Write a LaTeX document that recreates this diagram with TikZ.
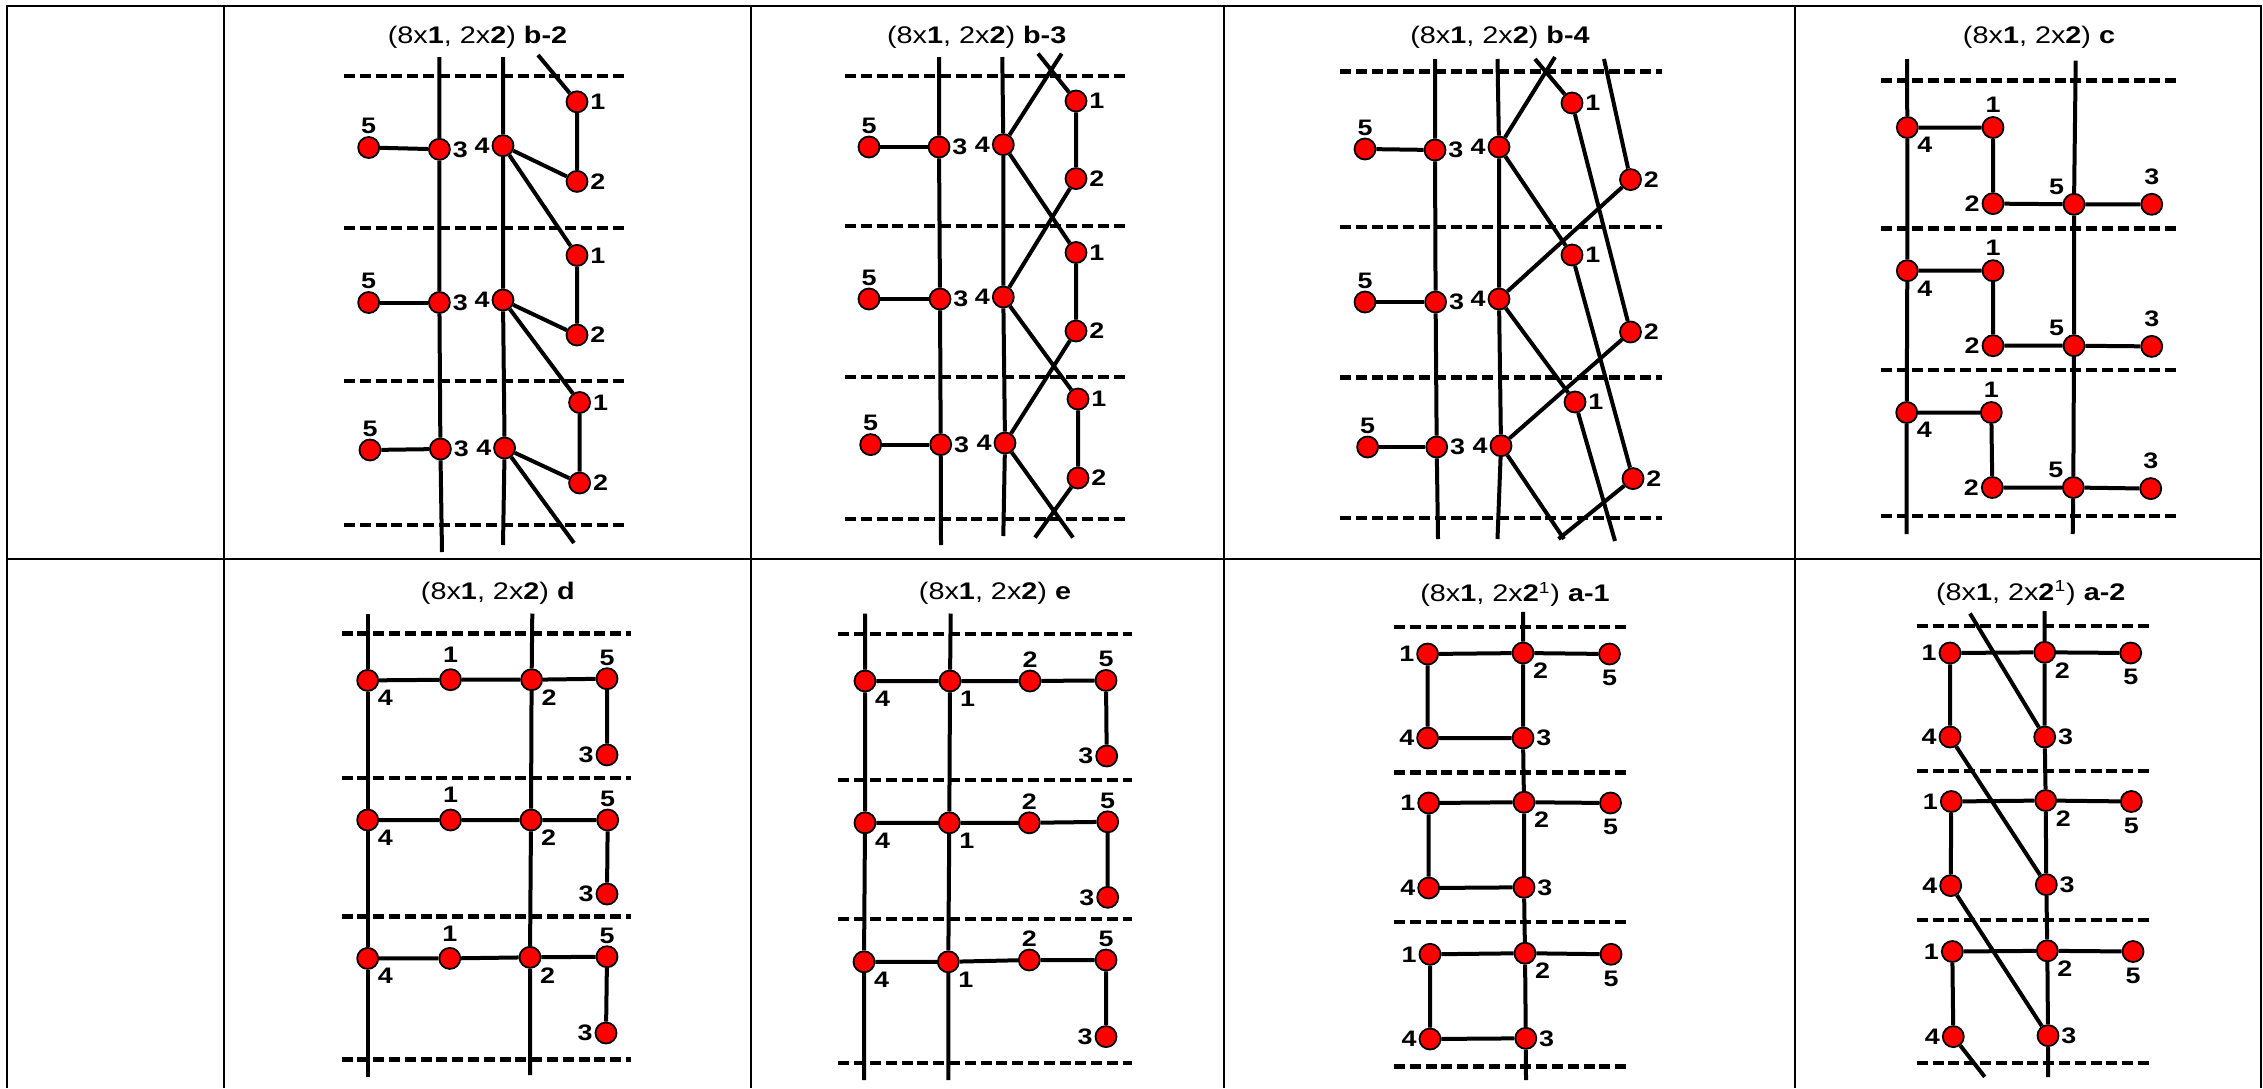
\documentclass[tikz,border=0pt]{standalone}
\usepackage{fontspec}
\setmainfont{Liberation Sans}[FakeStretch=1.2]
\tikzset{
  dot/.style={circle,draw=black,fill=red,line width=0.9pt,minimum size=10.5pt,inner sep=0pt},
  bond/.style={line width=2pt},
  period/.style={line width=2.2pt,dash pattern=on 5.5pt off 2.4pt},
  cell/.style={line width=1pt},
  title/.style={font=\fontsize{12}{14}\selectfont}
}
\begin{document}
\begin{tikzpicture}[x=0.5pt,y=-0.5pt,every label/.style={font=\fontsize{11.2}{13}\selectfont\bfseries,inner sep=0.8pt}]
\useasboundingbox (0,0) rectangle (2263,1088);
\draw[cell] (6.7,1088) -- (6.7,5.5) -- (2261,5.5) -- (2261,1088);
\draw[cell] (6.7,558.5) -- (2261,558.5);
\draw[cell] (223.5,5.5) -- (223.5,1088);
\draw[cell] (750.5,5.5) -- (750.5,1088);
\draw[cell] (1224,5.5) -- (1224,1088);
\draw[cell] (1795,5.5) -- (1795,1088);

\node[title] (tb2) at (477.5,37.5) {(8x\textbf{1}, 2x\textbf{2}) \textbf{b-2}};
\draw[period] (344,76) -- (628,76);
\draw[period] (344,228) -- (628,228);
\draw[period] (344,381) -- (628,381);
\draw[period] (344,525) -- (628,525);
\node[dot,label=above:5] (b2-5a) at (368.7,147.5) {};
\node[dot,label=right:3] (b2-3a) at (439.4,149.3) {};
\node[dot,label=left:4] (b2-4a) at (503,145.7) {};
\node[dot,label=right:1] (b2-1a) at (577,101.8) {};
\node[dot,label=right:2] (b2-2a) at (577,181.4) {};
\node[dot,label=above:5] (b2-5b) at (368.7,302.5) {};
\node[dot,label=right:3] (b2-3b) at (439.4,302.5) {};
\node[dot,label=left:4] (b2-4b) at (503,300) {};
\node[dot,label=right:1] (b2-1b) at (577,255.4) {};
\node[dot,label=right:2] (b2-2b) at (577,335) {};
\node[dot,label=above:5] (b2-5c) at (370,450) {};
\node[dot,label=right:3] (b2-3c) at (440.4,449) {};
\node[dot,label=left:4] (b2-4c) at (504.6,448) {};
\node[dot,label=right:1] (b2-1c) at (579.6,402.5) {};
\node[dot,label=right:2] (b2-2c) at (579.6,483) {};
\coordinate (b2-At) at (439.4,57);
\coordinate (b2-Ab) at (442,552);
\coordinate (b2-Bt) at (503,57);
\coordinate (b2-Bb) at (503,545);
\coordinate (b2-s) at (538,55);
\coordinate (b2-e) at (574,543);
\draw[bond] (b2-At) -- (b2-3a) -- (b2-3b) -- (b2-3c) -- (b2-Ab);
\draw[bond] (b2-Bt) -- (b2-4a) -- (b2-4b) -- (b2-4c) -- (b2-Bb);
\draw[bond] (b2-s) -- (b2-1a) -- (b2-2a) -- (b2-4a) -- (b2-1b) -- (b2-2b) -- (b2-4b) -- (b2-1c) -- (b2-2c) -- (b2-4c) -- (b2-e);
\draw[bond] (b2-5a) -- (b2-3a);
\draw[bond] (b2-5b) -- (b2-3b);
\draw[bond] (b2-5c) -- (b2-3c);

\node[title] (tb3) at (976.7,37.5) {(8x\textbf{1}, 2x\textbf{2}) \textbf{b-3}};
\draw[period] (845,75.7) -- (1126,75.7);
\draw[period] (845,226) -- (1126,226);
\draw[period] (845,376.8) -- (1126,376.8);
\draw[period] (845,519) -- (1126,519);
\node[dot,label=above:5] (b3-5a) at (869,147) {};
\node[dot,label=right:3] (b3-3a) at (939,147) {};
\node[dot,label=left:4] (b3-4a) at (1003.3,144.6) {};
\node[dot,label=right:1] (b3-1a) at (1076,101) {};
\node[dot,label=right:2] (b3-2a) at (1076,178.6) {};
\node[dot,label=above:5] (b3-5b) at (869,299) {};
\node[dot,label=right:3] (b3-3b) at (940,299) {};
\node[dot,label=left:4] (b3-4b) at (1003.3,297) {};
\node[dot,label=right:1] (b3-1b) at (1076,252.5) {};
\node[dot,label=right:2] (b3-2b) at (1076,331) {};
\node[dot,label=above:5] (b3-5c) at (870.7,444.6) {};
\node[dot,label=right:3] (b3-3c) at (940.7,444.6) {};
\node[dot,label=left:4] (b3-4c) at (1005,443) {};
\node[dot,label=right:1] (b3-1c) at (1078,399) {};
\node[dot,label=right:2] (b3-2c) at (1078,478) {};
\coordinate (b3-At) at (939,57);
\coordinate (b3-Ab) at (941,545);
\coordinate (b3-Bt) at (1002.3,57);
\coordinate (b3-Bb) at (1003.3,536);
\coordinate (b3-s) at (1038,53.6);
\coordinate (b3-t) at (1061.7,53.6);
\coordinate (b3-e1) at (1073,537.5);
\coordinate (b3-e2) at (1035,537.5);
\draw[bond] (b3-At) -- (b3-3a) -- (b3-3b) -- (b3-3c) -- (b3-Ab);
\draw[bond] (b3-Bt) -- (b3-4a) -- (b3-4b) -- (b3-4c) -- (b3-Bb);
\draw[bond] (b3-s) -- (b3-1a) -- (b3-2a) -- (b3-4b) -- (b3-1c) -- (b3-2c) -- (b3-e2);
\draw[bond] (b3-t) -- (b3-4a) -- (b3-1b) -- (b3-2b) -- (b3-4c) -- (b3-e1);
\draw[bond] (b3-5a) -- (b3-3a);
\draw[bond] (b3-5b) -- (b3-3b);
\draw[bond] (b3-5c) -- (b3-3c);

\node[title] (tb4) at (1500,37.5) {(8x\textbf{1}, 2x\textbf{2}) \textbf{b-4}};
\draw[period] (1340,71.4) -- (1662,71.4);
\draw[period] (1340,226.8) -- (1662,226.8);
\draw[period] (1340,377.5) -- (1662,377.5);
\draw[period] (1340,518) -- (1662,518);
\node[dot,label=above:5] (b4-5a) at (1365,149) {};
\node[dot,label=right:3] (b4-3a) at (1435,150) {};
\node[dot,label=left:4] (b4-4a) at (1499,147) {};
\node[dot,label=right:1] (b4-1a) at (1572,103) {};
\node[dot,label=right:2] (b4-2a) at (1630.5,179.6) {};
\node[dot,label=above:5] (b4-5b) at (1365,302) {};
\node[dot,label=right:3] (b4-3b) at (1435.6,302) {};
\node[dot,label=left:4] (b4-4b) at (1499,299) {};
\node[dot,label=right:1] (b4-1b) at (1572,255) {};
\node[dot,label=right:2] (b4-2b) at (1630.5,332) {};
\node[dot,label=above:5] (b4-5c) at (1367.6,447) {};
\node[dot,label=right:3] (b4-3c) at (1436.7,447) {};
\node[dot,label=left:4] (b4-4c) at (1501,445.7) {};
\node[dot,label=right:1] (b4-1c) at (1575,402) {};
\node[dot,label=right:2] (b4-2c) at (1633,478.6) {};
\coordinate (b4-At) at (1435,59);
\coordinate (b4-Ab) at (1438,539);
\coordinate (b4-Bt) at (1497.5,59);
\coordinate (b4-Bb) at (1497.5,539);
\coordinate (b4-t1) at (1555,57);
\coordinate (b4-t2) at (1535,59);
\coordinate (b4-t3) at (1604,59);
\coordinate (b4-e1) at (1558.5,539);
\coordinate (b4-e2) at (1564,539);
\coordinate (b4-e3) at (1615,541);
\draw[bond] (b4-At) -- (b4-3a) -- (b4-3b) -- (b4-3c) -- (b4-Ab);
\draw[bond] (b4-Bt) -- (b4-4a) -- (b4-4b) -- (b4-4c) -- (b4-Bb);
\draw[bond] (b4-t1) -- (b4-4a) -- (b4-1b) -- (b4-2c) -- (b4-e1);
\draw[bond] (b4-t2) -- (b4-1a) -- (b4-2b) -- (b4-4c) -- (b4-e2);
\draw[bond] (b4-t3) -- (b4-2a) -- (b4-4b) -- (b4-1c) -- (b4-e3);
\draw[bond] (b4-5a) -- (b4-3a);
\draw[bond] (b4-5b) -- (b4-3b);
\draw[bond] (b4-5c) -- (b4-3c);

\node[title] (tc) at (2039,37.5) {(8x\textbf{1}, 2x\textbf{2}) \textbf{c}};
\draw[period] (1880.7,80.4) -- (2176.7,80.4);
\draw[period] (1880.7,228.6) -- (2176.7,228.6);
\draw[period] (1880.7,370) -- (2176.7,370);
\draw[period] (1880.7,516) -- (2176.7,516);
\node[dot,label=below right:4] (c-4a) at (1907.3,127.5) {};
\node[dot,label={[label distance=1pt]above:1}] (c-1a) at (1993,127.5) {};
\node[dot,label=left:2] (c-2a) at (1993,203.6) {};
\node[dot,label=above left:5] (c-5a) at (2074,204.3) {};
\node[dot,label={[label distance=3pt]above:3}] (c-3a) at (2151.7,204.3) {};
\node[dot,label=below right:4] (c-4b) at (1907.3,270.7) {};
\node[dot,label={[label distance=1pt]above:1}] (c-1b) at (1993,270.7) {};
\node[dot,label=left:2] (c-2b) at (1993,345.7) {};
\node[dot,label=above left:5] (c-5b) at (2074,345.7) {};
\node[dot,label={[label distance=3pt]above:3}] (c-3b) at (2151.7,346.4) {};
\node[dot,label=below right:4] (c-4c) at (1906.7,412.5) {};
\node[dot,label={[label distance=1pt]above:1}] (c-1c) at (1991.3,412.5) {};
\node[dot,label=left:2] (c-2c) at (1992.3,487.5) {};
\node[dot,label=above left:5] (c-5c) at (2073.3,487.5) {};
\node[dot,label={[label distance=3pt]above:3}] (c-3c) at (2150.7,488.6) {};
\coordinate (c-At) at (1907,59);
\coordinate (c-Ab) at (1906.7,534);
\coordinate (c-Bt) at (2075.7,60.7);
\coordinate (c-Bb) at (2072.7,534);
\draw[bond] (c-At) -- (c-4a) -- (c-4b) -- (c-4c) -- (c-Ab);
\draw[bond] (c-Bt) -- (c-5a) -- (c-5b) -- (c-5c) -- (c-Bb);
\draw[bond] (c-4a) -- (c-1a) -- (c-2a) -- (c-5a) -- (c-3a);
\draw[bond] (c-4b) -- (c-1b) -- (c-2b) -- (c-5b) -- (c-3b);
\draw[bond] (c-4c) -- (c-1c) -- (c-2c) -- (c-5c) -- (c-3c);

\node[title] (td) at (497.8,592.9) {(8x\textbf{1}, 2x\textbf{2}) \textbf{d}};
\draw[period] (341.6,633.4) -- (631.4,633.4);
\draw[period] (341.6,778.2) -- (631.4,778.2);
\draw[period] (341.6,916.5) -- (631.4,916.5);
\draw[period] (341.6,1059.6) -- (631.4,1059.6);
\node[dot,label=below right:4] (d-4a) at (367.7,680.4) {};
\node[dot,label={[label distance=2pt]above:1}] (d-1a) at (450.5,679.7) {};
\node[dot,label=below right:2] (d-2a) at (531.6,679.7) {};
\node[dot,label=above:5] (d-5a) at (607,678.7) {};
\node[dot,label=left:3] (d-3a) at (607,754.9) {};
\node[dot,label=below right:4] (d-4b) at (367.7,820) {};
\node[dot,label={[label distance=2pt]above:1}] (d-1b) at (450.5,820) {};
\node[dot,label=below right:2] (d-2b) at (531,820) {};
\node[dot,label=above:5] (d-5b) at (607.7,820) {};
\node[dot,label=left:3] (d-3b) at (607,894) {};
\node[dot,label=below right:4] (d-4c) at (367.7,958.4) {};
\node[dot,label={[label distance=2pt]above:1}] (d-1c) at (449.8,958.4) {};
\node[dot,label=below right:2] (d-2c) at (530,957.3) {};
\node[dot,label=above:5] (d-5c) at (607,956.7) {};
\node[dot,label=left:3] (d-3c) at (606,1033) {};
\coordinate (d-At) at (367.7,613.5);
\coordinate (d-Ab) at (367.7,1076.8);
\coordinate (d-Bt) at (532.3,613.5);
\coordinate (d-Bb) at (530,1075);
\draw[bond] (d-At) -- (d-4a) -- (d-4b) -- (d-4c) -- (d-Ab);
\draw[bond] (d-Bt) -- (d-2a) -- (d-2b) -- (d-2c) -- (d-Bb);
\draw[bond] (d-4a) -- (d-1a) -- (d-2a) -- (d-5a) -- (d-3a);
\draw[bond] (d-4b) -- (d-1b) -- (d-2b) -- (d-5b) -- (d-3b);
\draw[bond] (d-4c) -- (d-1c) -- (d-2c) -- (d-5c) -- (d-3c);

\node[title] (te) at (995,592.9) {(8x\textbf{1}, 2x\textbf{2}) \textbf{e}};
\draw[period] (838.3,634) -- (1131.7,634);
\draw[period] (838.3,780) -- (1131.7,780);
\draw[period] (838.3,919) -- (1131.7,919);
\draw[period] (838.3,1063) -- (1131.7,1063);
\node[dot,label=below right:4] (e-4a) at (865,681) {};
\node[dot,label=below right:1] (e-1a) at (950,681) {};
\node[dot,label=above:2] (e-2a) at (1030,681) {};
\node[dot,label=above:5] (e-5a) at (1106,680.4) {};
\node[dot,label=left:3] (e-3a) at (1106.7,756) {};
\node[dot,label=below right:4] (e-4b) at (865,822.8) {};
\node[dot,label=below right:1] (e-1b) at (949.3,822.8) {};
\node[dot,label=above:2] (e-2b) at (1029.3,822.8) {};
\node[dot,label=above:5] (e-5b) at (1107.7,821.8) {};
\node[dot,label=left:3] (e-3b) at (1107.7,897.3) {};
\node[dot,label=below right:4] (e-4c) at (864,961.8) {};
\node[dot,label=below right:1] (e-1c) at (948.3,961.8) {};
\node[dot,label=above:2] (e-2c) at (1029.3,960) {};
\node[dot,label=above:5] (e-5c) at (1106,960) {};
\node[dot,label=left:3] (e-3c) at (1106,1036.6) {};
\coordinate (e-At) at (865,613.5);
\coordinate (e-Ab) at (864,1080);
\coordinate (e-Bt) at (950.7,613.5);
\coordinate (e-Bb) at (948.3,1080);
\draw[bond] (e-At) -- (e-4a) -- (e-4b) -- (e-4c) -- (e-Ab);
\draw[bond] (e-Bt) -- (e-1a) -- (e-1b) -- (e-1c) -- (e-Bb);
\draw[bond] (e-4a) -- (e-1a) -- (e-2a) -- (e-5a) -- (e-3a);
\draw[bond] (e-4b) -- (e-1b) -- (e-2b) -- (e-5b) -- (e-3b);
\draw[bond] (e-4c) -- (e-1c) -- (e-2c) -- (e-5c) -- (e-3c);

\node[title] (ta1) at (1515,594.6) {(8x\textbf{1}, 2x\textbf{2}\textsuperscript{1}) \textbf{a-1}};
\draw[period] (1394,627) -- (1627.6,627);
\draw[period] (1394,772.4) -- (1627.6,772.4);
\draw[period] (1394,921.7) -- (1627.6,921.7);
\draw[period] (1394,1066.5) -- (1627.6,1066.5);
\node[dot,label=left:1] (a1-1a) at (1427.6,654) {};
\node[dot,label=below right:2] (a1-2a) at (1523,653) {};
\node[dot,label={[label distance=1.5pt]below:5}] (a1-5a) at (1609.5,654) {};
\node[dot,label=left:4] (a1-4a) at (1427.6,738) {};
\node[dot,label=right:3] (a1-3a) at (1523,738) {};
\node[dot,label=left:1] (a1-1b) at (1428.7,803) {};
\node[dot,label=below right:2] (a1-2b) at (1524,802.2) {};
\node[dot,label={[label distance=1.5pt]below:5}] (a1-5b) at (1610.5,803) {};
\node[dot,label=left:4] (a1-4b) at (1428.7,888) {};
\node[dot,label=right:3] (a1-3b) at (1524,887.3) {};
\node[dot,label=left:1] (a1-1c) at (1430,954.3) {};
\node[dot,label=below right:2] (a1-2c) at (1525,953.2) {};
\node[dot,label={[label distance=1.5pt]below:5}] (a1-5c) at (1611,954.3) {};
\node[dot,label=left:4] (a1-4c) at (1430,1039) {};
\node[dot,label=right:3] (a1-3c) at (1525.8,1038.3) {};
\coordinate (a1-t) at (1523,611.8);
\coordinate (a1-b) at (1526,1080);
\draw[bond] (a1-t) -- (a1-2a) -- (a1-3a) -- (a1-2b) -- (a1-3b) -- (a1-2c) -- (a1-3c) -- (a1-b);
\draw[bond] (a1-5a) -- (a1-2a) -- (a1-1a) -- (a1-4a) -- (a1-3a);
\draw[bond] (a1-5b) -- (a1-2b) -- (a1-1b) -- (a1-4b) -- (a1-3b);
\draw[bond] (a1-5c) -- (a1-2c) -- (a1-1c) -- (a1-4c) -- (a1-3c);

\node[title] (ta2) at (2030.7,592.9) {(8x\textbf{1}, 2x\textbf{2}\textsuperscript{1}) \textbf{a-2}};
\draw[period] (1916.7,626) -- (2149,626);
\draw[period] (1916.7,771) -- (2149,771);
\draw[period] (1916.7,920) -- (2149,920);
\draw[period] (1916.7,1063) -- (2149,1063);
\node[dot,label=left:1] (a2-1a) at (1950,653) {};
\node[dot,label=below right:2] (a2-2a) at (2044.7,652.3) {};
\node[dot,label={[label distance=1.5pt]below:5}] (a2-5a) at (2130.7,653) {};
\node[dot,label=left:4] (a2-4a) at (1950,737) {};
\node[dot,label=right:3] (a2-3a) at (2044.7,737) {};
\node[dot,label=left:1] (a2-1b) at (1951.3,801.5) {};
\node[dot,label=below right:2] (a2-2b) at (2045.7,800.5) {};
\node[dot,label={[label distance=1.5pt]below:5}] (a2-5b) at (2131.3,801.5) {};
\node[dot,label=left:4] (a2-4b) at (1950.7,885.6) {};
\node[dot,label=right:3] (a2-3b) at (2046.3,884.6) {};
\node[dot,label=left:1] (a2-1c) at (1952.3,951.5) {};
\node[dot,label=below right:2] (a2-2c) at (2047.3,950.8) {};
\node[dot,label={[label distance=1.5pt]below:5}] (a2-5c) at (2133,951.5) {};
\node[dot,label=left:4] (a2-4c) at (1953.3,1036.6) {};
\node[dot,label=right:3] (a2-3c) at (2048,1035.6) {};
\coordinate (a2-t) at (2044.7,611);
\coordinate (a2-b) at (2048,1077);
\coordinate (a2-s) at (1970,613.5);
\coordinate (a2-e) at (1984.7,1076.8);
\draw[bond] (a2-t) -- (a2-2a) -- (a2-3a) -- (a2-2b) -- (a2-3b) -- (a2-2c) -- (a2-3c) -- (a2-b);
\draw[bond] (a2-5a) -- (a2-2a) -- (a2-1a) -- (a2-4a);
\draw[bond] (a2-5b) -- (a2-2b) -- (a2-1b) -- (a2-4b);
\draw[bond] (a2-5c) -- (a2-2c) -- (a2-1c) -- (a2-4c);
\draw[bond] (a2-s) -- (a2-3a);
\draw[bond] (a2-4a) -- (a2-3b);
\draw[bond] (a2-4b) -- (a2-3c);
\draw[bond] (a2-4c) -- (a2-e);
\end{tikzpicture}
\end{document}
